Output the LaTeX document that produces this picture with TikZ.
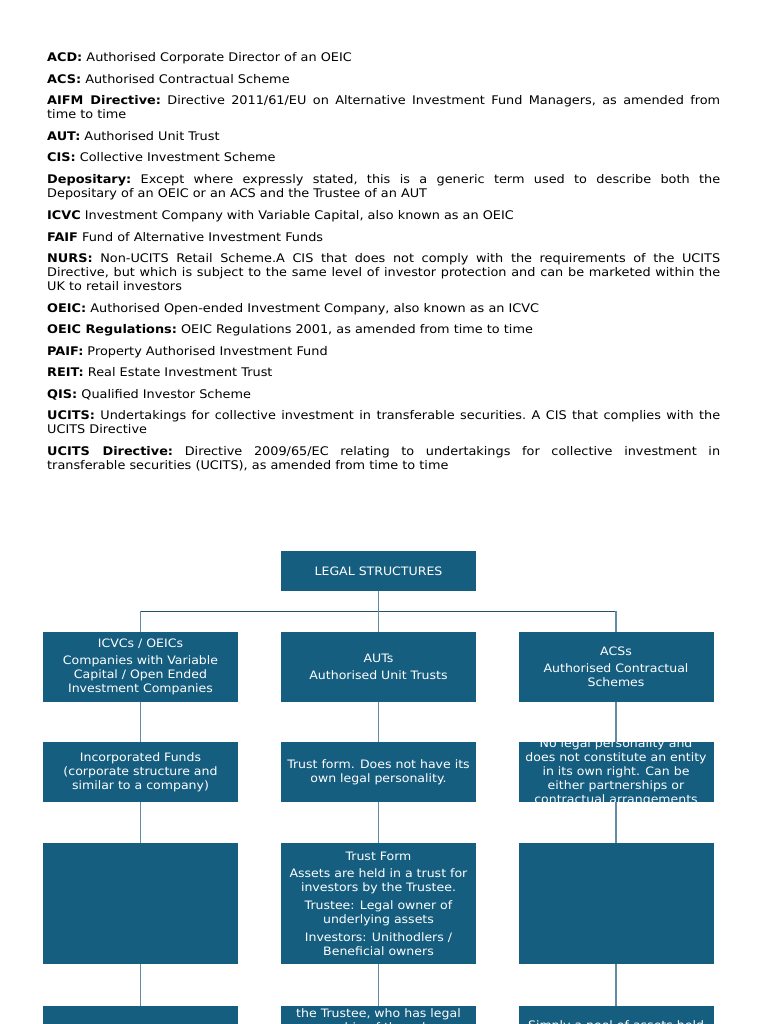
\documentclass[tikz,border=0pt]{standalone}
\usepackage{fontspec}
\setmainfont{DejaVu Sans}[FakeStretch=1.08]
\definecolor{boxblue}{RGB}{22,94,128}
\definecolor{linkblue}{RGB}{98,140,166}
\definecolor{busblue}{RGB}{36,82,108}
\newcommand{\bodysize}{\fontsize{11.9}{14}\selectfont\frenchspacing}
\newcommand{\boxsize}{\fontsize{11.6}{14}\selectfont}

\begin{document}
\begin{tikzpicture}[x=1pt, y=-1pt]
	\tikzset{term/.style = {anchor=base west, inner sep=0pt, text width=673pt, align=justify, font=\bodysize},
		box/.style = {fill=boxblue, inner sep=0pt, minimum width=195pt},
		boxtext/.style = {text=white, align=center, inner sep=0pt, font=\boxsize},
		link/.style = {draw=linkblue, line width=1.2pt},
		busline/.style = {draw=busblue, line width=1pt}}
	
	\useasboundingbox (0,0) rectangle (768,1024);
	
	% list of abbreviations
	\node[term] (term_ACD) at (47,62) {\textbf{ACD:} Authorised Corporate Director of an OEIC};
	\node[term] (term_ACS) at (47,84) {\textbf{ACS:} Authorised Contractual Scheme};
	\node[term] (term_AIFM) at (47,105) {\textbf{AIFM Directive:} Directive 2011/61/EU on Alternative Investment Fund Managers, as amended from\linebreak time to time};
	\node[term] (term_AUT) at (47,141) {\textbf{AUT:} Authorised Unit Trust};
	\node[term] (term_CIS) at (47,162) {\textbf{CIS:} Collective Investment Scheme};
	\node[term] (term_Dep) at (47,184) {\textbf{Depositary:} Except where expressly stated, this is a generic term used to describe both the\linebreak Depositary of an OEIC or an ACS and the Trustee of an AUT};
	\node[term] (term_ICVC) at (47,219) {\textbf{ICVC} Investment Company with Variable Capital, also known as an OEIC};
	\node[term] (term_FAIF) at (47,241) {\textbf{FAIF} Fund of Alternative Investment Funds};
	\node[term] (term_NURS) at (47,262) {\textbf{NURS:} Non-UCITS Retail Scheme.A CIS that does not comply with the requirements of the UCITS\linebreak Directive, but which is subject to the same level of investor protection and can be marketed within the\linebreak UK to retail investors};
	\node[term] (term_OEIC) at (47,312) {\textbf{OEIC:} Authorised Open-ended Investment Company, also known as an ICVC};
	\node[term] (term_OEICReg) at (47,333) {\textbf{OEIC Regulations:} OEIC Regulations 2001, as amended from time to time};
	\node[term] (term_PAIF) at (47,355) {\textbf{PAIF:} Property Authorised Investment Fund};
	\node[term] (term_REIT) at (47,376) {\textbf{REIT:} Real Estate Investment Trust};
	\node[term] (term_QIS) at (47,398) {\textbf{QIS:} Qualified Investor Scheme};
	\node[term] (term_UCITS) at (47,419) {\textbf{UCITS:} Undertakings for collective investment in transferable securities. A CIS that complies with the\linebreak UCITS Directive};
	\node[term] (term_UCITSDir) at (47,455) {\textbf{UCITS Directive:} Directive 2009/65/EC relating to undertakings for collective investment in\linebreak transferable securities (UCITS), as amended from time to time};
	
	% boxes
	\node[box, minimum height=40pt] (ls) at (378.5,571) {};
	\node[box, minimum height=70pt] (icvc) at (140.5,667) {};
	\node[box, minimum height=70pt] (aut) at (378.5,667) {};
	\node[box, minimum height=70pt] (acs) at (616,667) {};
	\node[box, minimum height=60pt] (incfund) at (140.5,772) {};
	\node[box, minimum height=60pt] (trustform) at (378.5,772) {};
	\node[box, minimum height=60pt] (contract) at (616,772) {};
	\node[box, minimum height=121pt] (icvcown) at (140.5,903.5) {};
	\node[box, minimum height=121pt] (trustown) at (378.5,903.5) {};
	\node[box, minimum height=121pt] (acsown) at (616,903.5) {};
	\node[box, minimum height=100pt] (icvcpool) at (140.5,1056) {};
	\node[box, minimum height=100pt] (trustpool) at (378.5,1056) {};
	\node[box, minimum height=100pt] (acspool) at (616,1056) {};
	
	% box texts
	\node[boxtext] (label_ls) at (ls) {LEGAL STRUCTURES};
	\node[boxtext] (label_icvc) at (icvc) {ICVCs / OEICs\\[3pt] Companies with Variable\\ Capital / Open Ended\\ Investment Companies};
	\node[boxtext] (label_aut) at (aut) {AUTs\\[3pt] Authorised Unit Trusts};
	\node[boxtext] (label_acs) at (acs) {ACSs\\[3pt] Authorised Contractual\\ Schemes};
	\node[boxtext] (label_incfund) at (incfund) {Incorporated Funds\\ (corporate structure and\\ similar to a company)};
	\node[boxtext] (label_trustform) at (trustform) {Trust form. Does not have its\\ own legal personality.};
	\begin{scope}
		\clip (contract.north west) rectangle (contract.south east);
		\node[boxtext] (label_contract) at (contract) {No legal personality and\\ does not constitute an entity\\ in its own right. Can be\\ either partnerships or\\ contractual arrangements};
	\end{scope}
	\node[boxtext] (label_trustown) at (trustown) {Trust Form\\[3pt] Assets are held in a trust for\\ investors by the Trustee.\\[4pt] Trustee: Legal owner of\\ underlying assets\\[4pt] Investors: Unithodlers /\\ Beneficial owners};
	\node[boxtext] (label_trustpool) at (378.5,1021) {the Trustee, who has legal\\ ownership of the scheme};
	\node[boxtext] (label_acspool) at (616,1026) {Simply a pool of assets held};
	
	% connectors
	\coordinate (bus) at (378.5,611);
	\draw[link] (ls) -- (bus);
	\draw[busline] (icvc.north |- bus) -- (acs.north |- bus);
	\draw[link] (bus) -- (aut);
	\draw[link] (icvc.north |- bus) -- (icvc);
	\draw[link] (acs.north |- bus) -- (acs);
	\draw[link] (icvc) -- (incfund) -- (icvcown) -- (icvcpool);
	\draw[link] (aut) -- (trustform) -- (trustown) -- (trustpool);
	\draw[link] (acs) -- (contract) -- (acsown) -- (acspool);
	
\end{tikzpicture}
\end{document}
